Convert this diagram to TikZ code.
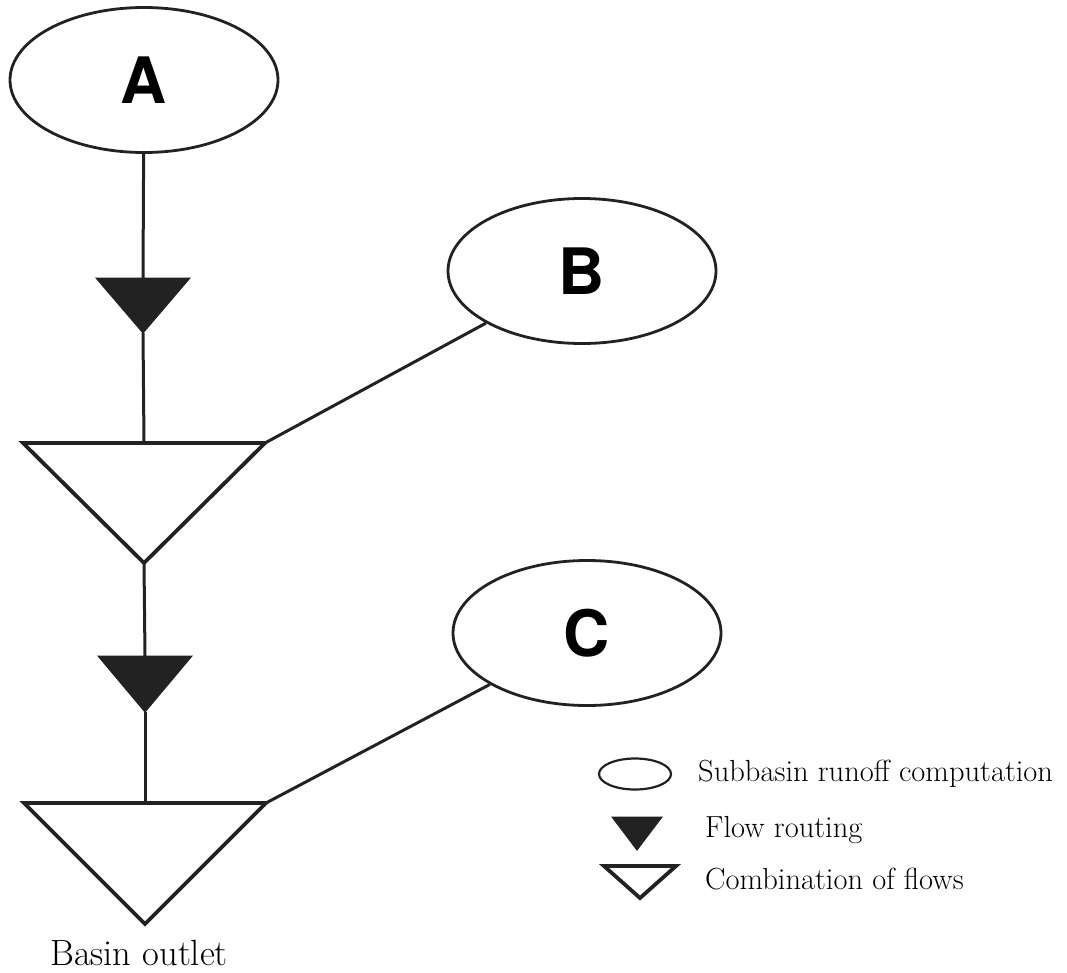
\documentclass[tikz,border=0pt]{standalone}
\usepackage{fontspec}
\usepackage{tikz}
\usetikzlibrary{shapes.geometric}
\newfontfamily\heros{TeX Gyre Heros}
\definecolor{ink}{HTML}{222222}

\tikzset{
  subbasin/.style={ellipse, draw=ink, line width=2.8pt, inner sep=0pt,
    minimum width=268pt, minimum height=145pt,
    font=\heros\bfseries\fontsize{64}{70}\selectfont},
  flowline/.style={draw=ink, line width=3pt},
  routing/.style={fill=ink, draw=ink, line width=1pt, line join=miter},
  combine/.style={draw=ink, line width=3.8pt, line join=miter},
  legendtext/.style={anchor=west, inner sep=0pt, font=\fontsize{30.5}{34}\selectfont}
}

% filled triangle: name, top centre, half width, depth
\newcommand{\routetri}[4]{%
  \coordinate (#1) at #2;
  \path[routing] (#1) ++(-#3,0) -- ++(2*#3,0) -- ++(-#3,#4) coordinate (#1-tip) -- cycle;}
% open triangle: name, top centre, half width, depth
\newcommand{\combtri}[4]{%
  \coordinate (#1) at #2;
  \path[combine] (#1) ++(-#3,0) -- ++(2*#3,0) coordinate (#1-r) -- ++(-#3,#4) coordinate (#1-tip) -- cycle;}

\begin{document}
\begin{tikzpicture}[x=1pt, y=-1pt]
    \useasboundingbox (0,0) rectangle (1067,972);

    \node[subbasin] (A) at (144, 80) {A};
    \node[subbasin] (B) at (582, 271) {B};
    \node[subbasin] (C) at (587, 633) {C};

    \routetri{r1}{(143,278)}{47}{55}
    \combtri{c1}{(144,443)}{121}{120}
    \routetri{r2}{(145,656)}{47}{56}
    \combtri{c2}{(145,803)}{121}{121}

    \path[flowline] (A) -- (r1);
    \path[flowline] (r1-tip) -- (c1);
    \path[flowline] (B) -- (c1-r);
    \path[flowline] (c1-tip) -- (r2);
    \path[flowline] (r2-tip) -- (c2);
    \path[flowline] (C) -- (c2-r);

    \node[legendtext, anchor=center, font=\fontsize{36.5}{40}\selectfont] (outlet) at (139, 953) {Basin outlet};

    % legend
    \node[ellipse, draw=ink, line width=2.2pt, minimum width=72pt, minimum height=31pt, inner sep=0pt] (keyA) at (635, 774) {};
    \routetri{keyR}{(637,817)}{25}{33}
    \combtri{keyC}{(640,866)}{36}{32}
    \node[legendtext] (keyAtext) at (698, 774) {Subbasin runoff computation};
    \node[legendtext] (keyRtext) at (705, 830) {Flow routing};
    \node[legendtext] (keyCtext) at (705, 879) {Combination of flows};
\end{tikzpicture}
\end{document}
